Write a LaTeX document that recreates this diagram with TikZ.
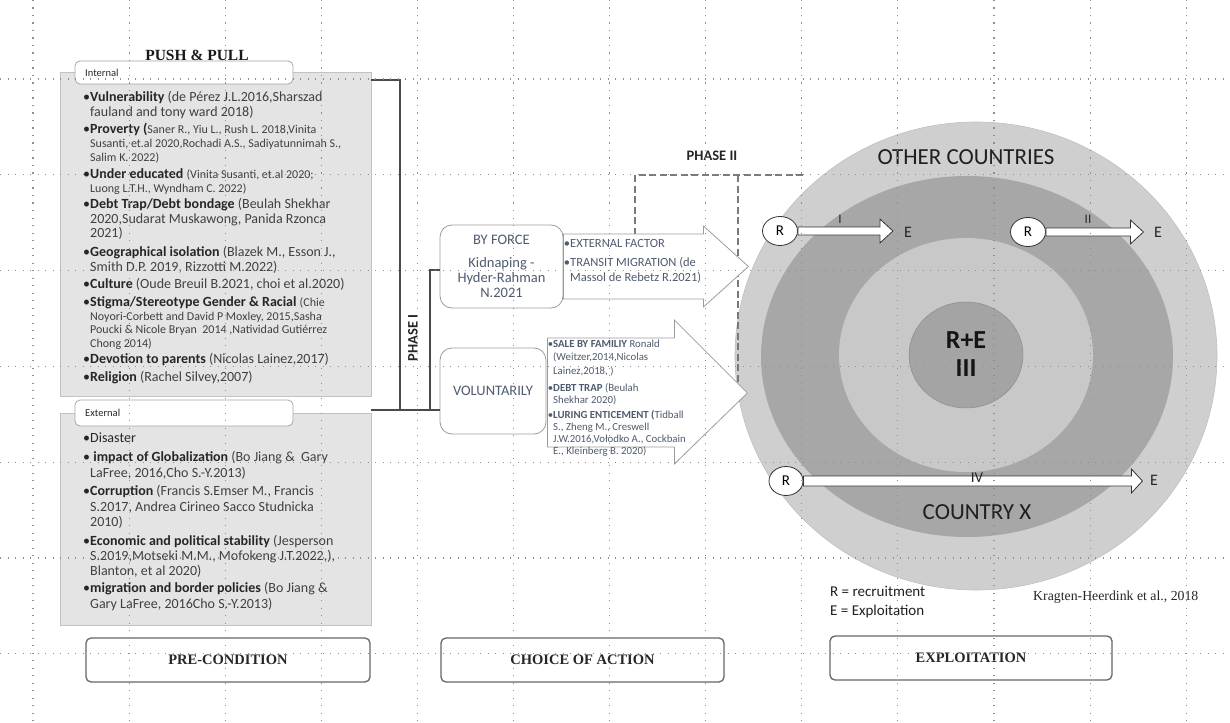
\documentclass[tikz,border=0pt]{standalone}
\usepackage{fontspec}
\setmainfont{Carlito}
\newfontfamily\tnr{Liberation Serif}
\usetikzlibrary{shapes.geometric}

\definecolor{boxgray}{HTML}{E4E4E4}
\definecolor{boxedge}{HTML}{C2C2C2}
\definecolor{lblgray}{HTML}{A6A6A6}
\definecolor{txtdark}{HTML}{262626}
\definecolor{txtcite}{HTML}{404040}
\definecolor{midtxt}{HTML}{4F5B6E}
\definecolor{lineclr}{HTML}{4A4A4A}
\definecolor{ringA}{HTML}{CFCFCF}
\definecolor{ringB}{HTML}{A7A7A7}
\definecolor{ringC}{HTML}{C8C8C8}
\definecolor{ringD}{HTML}{A4A4A4}
\definecolor{gridclr}{HTML}{8F8F8F}
\definecolor{arrowedge}{HTML}{9C9C9C}
\definecolor{dashclr}{HTML}{7A7A7A}

\newcommand\fs[1]{\fontsize{#1}{#1}\selectfont}
\newcommand\mylines[2]{\vtop{\baselineskip=#1pt\relax\lineskiplimit=-100pt\halign{##\hfil\cr#2\crcr}}}
\newcommand\cb[1]{{\color{txtcite}#1}}
\newcommand\ct[1]{{\color{txtcite}\fs{12}#1}}

\begin{document}
\begin{tikzpicture}[x=1pt,y=-1pt,
  graybox/.style={draw=boxedge, fill=boxgray, line width=0.8pt, inner sep=0pt, rectangle},
  lblbox/.style={draw=lblgray, fill=white, rounded corners=5pt, line width=0.8pt, inner sep=0pt},
  lbltext/.style={anchor=west, inner sep=0pt, font=\fs{10.5}, text=txtdark},
  lefttxt/.style={anchor=base west, inner sep=0pt, font=\fs{14}, text=txtdark},
  midbox/.style={draw=arrowedge, fill=white, rounded corners=12pt, line width=0.8pt, inner sep=0pt, align=center, font={\fontsize{14.5}{15}\selectfont}, text=midtxt},
  bigarrow/.style={draw=arrowedge, fill=white, line width=0.8pt, line join=miter},
  arrtxt/.style={anchor=base west, inner sep=0pt, font=\fs{12.5}, text=midtxt},
  arrtxtb/.style={anchor=base west, inner sep=0pt, font=\fs{10.8}, text=midtxt},
  conn/.style={draw=lineclr, line width=1.2pt},
  phasedash/.style={draw=dashclr, line width=1.3pt, dash pattern=on 7pt off 3.5pt},
  rnode/.style={ellipse, draw=black!80, fill=white, line width=0.8pt, minimum width=35pt, minimum height=29pt, inner sep=0pt, font=\fs{15}},
  rearrow/.style={draw=black!80, fill=white, line width=0.8pt, line join=miter},
  elabel/.style={inner sep=0pt, font=\fs{16}, text=black!85},
  rlabel/.style={inner sep=0pt, font=\fs{13}, text=black!85},
  botbox/.style={draw=black!60, fill=white, line width=1.3pt, rounded corners=5pt, inner sep=0pt, font={\tnr\bfseries\fs{14.5}}, text=black!85},
  gridline/.style={draw=gridclr, line width=1.1pt, dash pattern=on 1.1pt off 6.4pt}
]
\useasboundingbox (0,0) rectangle (1230,722);

% ---------- concentric countries ----------
\filldraw[fill=ringA, draw=black!25, line width=0.6pt] (976,356) ellipse [x radius=241pt, y radius=234pt];
\fill[ringB] (967,356.5) ellipse [x radius=206pt, y radius=180.5pt];
\fill[ringC] (966,355) ellipse [x radius=127pt, y radius=117pt];
\filldraw[fill=ringD, draw=black!45, line width=0.5pt] (966,355) ellipse [x radius=57pt, y radius=53pt];

\node[inner sep=0pt, font=\fs{23}, text=black!88] (other) at (966,157) {OTHER COUNTRIES};
\node[inner sep=0pt, font=\fs{23}, text=black!88] (countryx) at (977,512) {COUNTRY X};
\node[inner sep=0pt, font=\bfseries\fs{26}, text=black!92] (rpe) at (966,340) {R+E};
\node[inner sep=0pt, font=\bfseries\fs{26}, text=black!92] (iii) at (966,368) {III};

% ---------- left panel ----------
\node[inner sep=0pt, font={\tnr\bfseries\fs{15.5}}, text=black!90] (pushpull) at (197,55) {PUSH \& PULL};

\node[graybox, minimum width=311pt, minimum height=324pt] (intbox) at (215.5,234) {};
\node[lblbox, minimum width=218pt, minimum height=23pt] (intlabel) at (184,72.5) {};
\node[lbltext] (intlabeltxt) at (85,72.5) {Internal};

\node[graybox, minimum width=311pt, minimum height=212pt] (extbox) at (215.5,519) {};
\node[lblbox, minimum width=218pt, minimum height=26pt] (extlabel) at (184,413) {};
\node[lbltext] (extlabeltxt) at (85,413) {External};

\node[lefttxt] (i1) at (90,101.5) {\mylines{15}{\llap{•}\textbf{Vulnerability} \cb{(de Pérez J.L.2016,Sharszad}\cr \cb{fauland and tony ward 2018)}}};
\node[lefttxt] (i2) at (90,133.5) {\mylines{14}{\llap{•}\textbf{Proverty (}\ct{Saner R., Yiu L., Rush L. 2018,Vinita}\cr \ct{Susanti, et.al 2020,Rochadi A.S., Sadiyatunnimah S.,}\cr \ct{Salim K. 2022)}}};
\node[lefttxt] (i3) at (90,178.5) {\mylines{13.5}{\llap{•}\textbf{Under educated} \ct{(Vinita Susanti, et.al 2020;}\cr \ct{Luong L.T.H., Wyndham C. 2022)}}};
\node[lefttxt] (i4) at (90,208.5) {\mylines{14.5}{\llap{•}\textbf{Debt Trap/Debt bondage} \cb{(Beulah Shekhar}\cr \cb{2020,Sudarat Muskawong, Panida Rzonca}\cr \cb{2021)}}};
\node[lefttxt] (i5) at (90,256.5) {\mylines{15}{\llap{•}\textbf{Geographical isolation} \cb{(Blazek M., Esson J.,}\cr \cb{Smith D.P. 2019, Rizzotti M.2022)}}};
\node[lefttxt] (i6) at (90,288.5) {\llap{•}\textbf{Culture} \cb{(Oude Breuil B.2021, choi et al.2020)}};
\node[lefttxt] (i7) at (90,306.5) {\mylines{13.7}{\llap{•}\textbf{Stigma/Stereotype Gender \& Racial} \ct{(Chie}\cr \ct{Noyori-Corbett and David P Moxley, 2015,Sasha}\cr \ct{Poucki \& Nicole Bryan~ 2014 ,Natividad Gutiérrez}\cr \ct{Chong 2014)}}};
\node[lefttxt] (i8) at (90,363.5) {\llap{•}\textbf{Devotion to parents} \cb{(Nicolas Lainez,2017)}};
\node[lefttxt] (i9) at (90,381.5) {\llap{•}\textbf{Religion} \cb{(Rachel Silvey,2007)}};

\node[lefttxt] (x1) at (90,442.5) {\llap{•}Disaster};
\node[lefttxt] (x2) at (90,461.5) {\mylines{16}{\llap{•}\ \textbf{impact of Globalization} \cb{(Bo Jiang \&~ Gary}\cr \cb{LaFree, 2016,Cho S.-Y.2013)}}};
\node[lefttxt] (x3) at (90,495.5) {\mylines{15.5}{\llap{•}\textbf{Corruption} \cb{(Francis S.Emser M., Francis}\cr \cb{S.2017, Andrea Cirineo Sacco Studnicka}\cr \cb{2010)}}};
\node[lefttxt] (x4) at (90,545.5) {\mylines{15}{\llap{•}\textbf{Economic and political stability} \cb{(Jesperson}\cr \cb{S.2019,Motseki M.M., Mofokeng J.T.2022,),}\cr \cb{Blanton, et al 2020)}}};
\node[lefttxt] (x5) at (90,592.5) {\mylines{16}{\llap{•}\textbf{migration and border policies} \cb{(Bo Jiang \&}\cr \cb{Gary LaFree, 2016Cho S.-Y.2013)}}};

% ---------- choice of action ----------
\node[midbox, minimum width=123pt, minimum height=83pt] (byforce) at (501.5,266.5) {BY FORCE\\[8pt]Kidnaping -\\Hyder-Rahman\\N.2021};
\node[midbox, minimum width=106pt, minimum height=86pt] (vol) at (493,391) {VOLUNTARILY};

\coordinate (j1) at (400,80);
\coordinate (j2) at (400,410);
\coordinate (j3) at (430,270);
\coordinate (j4) at (430,410);
\draw[conn] (intbox.east |- j1) -- (j1) -- (j2);
\draw[conn] (extbox.north east |- j2) -- (vol.west |- j2);
\draw[conn] (byforce.west |- j3) -- (j3) -- (j4);

\node[inner sep=0pt, rotate=90, font=\bfseries\fs{14.5}, text=black!85] (phase1) at (413,338) {PHASE I};
\node[inner sep=0pt, font=\bfseries\fs{14.5}, text=black!85] (phase2) at (712,156) {PHASE II};

\coordinate (d1) at (803,175);
\coordinate (d2) at (635,175);
\coordinate (d3) at (635,236);
\coordinate (d4) at (738,175);
\coordinate (d5) at (738,392);
\coordinate (d6) at (653,392);
\draw[phasedash] (d1) -- (d2) -- (d3);
\draw[phasedash] (d4) -- (d5) -- (d6);

\draw[bigarrow] (byforce.east) ++(0,-32.5) -- ++(140,0) -- ++(0,-8) -- ++(45,40.5) -- ++(-45,40.5) -- ++(0,-8) -- ++(-140,0) -- cycle;
\draw[bigarrow] (vol.east) ++(1,-53) -- ++(127,0) -- ++(0,-18) -- ++(73,73) -- ++(-73,71) -- ++(0,-17) -- ++(-127,0) -- cycle;

\node[arrtxt] (a1a) at (570,247.5) {\llap{•}EXTERNAL FACTOR};
\node[arrtxt] (a1b) at (570,266.5) {\mylines{15}{\llap{•}TRANSIT MIGRATION (de\cr Massol de Rebetz R.2021)}};

\node[arrtxtb] (a2a) at (553,347) {\mylines{13.5}{\llap{•}\textbf{SALE BY FAMILIY} Ronald\cr (Weitzer,2014,Nicolas\cr Lainez,2018, )}};
\node[arrtxtb] (a2b) at (553,391) {\mylines{12.5}{\llap{•}\textbf{DEBT TRAP} (Beulah\cr Shekhar 2020)}};
\node[arrtxtb] (a2c) at (553,418) {\mylines{12}{\llap{•}\textbf{LURING ENTICEMENT (}Tidball\cr S., Zheng M., Creswell\cr J.W.2016,Vołodko A., Cockbain\cr E., Kleinberg B. 2020)}};

% ---------- R / E arrows ----------
\node[rnode] (r1) at (780,231) {R};
\node[rnode] (r2) at (1028,232) {R};
\node[rnode, minimum width=34pt] (r4) at (786,481) {R};
\node[elabel] (e1) at (908,232) {E};
\node[elabel] (e2) at (1158,232) {E};
\node[elabel] (e4) at (1154,480) {E};

\draw[rearrow] (r1.east) ++(0,-4) -- ++(82,0) -- ++(0,-8) -- ++(13,12) -- ++(-13,12) -- ++(0,-8) -- ++(-82,0) -- cycle;
\draw[rearrow] (r2.east) ++(0,-4) -- ++(84.5,0) -- ++(0,-8) -- ++(13,12) -- ++(-13,12) -- ++(0,-8) -- ++(-84.5,0) -- cycle;
\draw[rearrow] (r4.east) ++(0,-5) -- ++(328,0) -- ++(0,-7) -- ++(11,12) -- ++(-11,12) -- ++(0,-7) -- ++(-328,0) -- cycle;

\node[rlabel] (l1) at (840,219) {I};
\node[rlabel] (l2) at (1088,219) {II};
\node[rlabel, font=\fs{15}] (l4) at (977,478) {IV};

\node[anchor=base west, inner sep=0pt, font=\fs{15}, text=black!88] (legr) at (830,596) {R = recruitment};
\node[anchor=base west, inner sep=0pt, font=\fs{15}, text=black!88] (lege) at (830,615) {E = Exploitation};
\node[anchor=base west, inner sep=0pt, font={\tnr\fs{13.8}}, text=black!85] (kragten) at (1033,600) {Kragten-Heerdink et al., 2018};

% ---------- bottom labels ----------
\node[botbox, minimum width=284pt, minimum height=44pt] (precond) at (228,660) {PRE-CONDITION};
\node[botbox, minimum width=283pt, minimum height=44pt] (choice) at (582.5,660) {CHOICE OF ACTION};
\node[botbox, minimum width=282pt, minimum height=44pt] (exploit) at (971,658) {EXPLOITATION};

% ---------- grid ----------
\foreach \gx in {0,...,12} {
  \draw[gridline] ({33+96.1*\gx},0) -- ({33+96.1*\gx},722);
}
\foreach \gy in {0,...,6} {
  \draw[gridline] (0,{79+95.8*\gy}) -- (1230,{79+95.8*\gy});
}
\end{tikzpicture}
\end{document}
